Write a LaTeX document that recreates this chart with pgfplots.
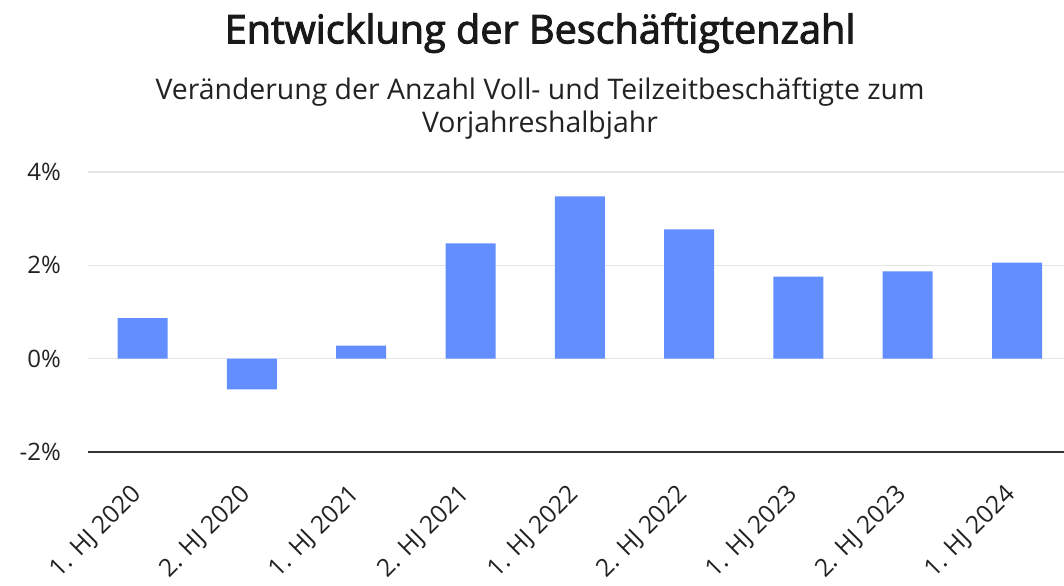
\documentclass[border=0pt]{standalone}
\usepackage{pgfplots}
\pgfplotsset{compat=1.18}
\usepackage{fontspec}
\setmainfont{Open Sans}
\newfontfamily\titlefont[FakeBold=2.5]{Open Sans}
\definecolor{barblue}{RGB}{99,142,255}
\definecolor{txt}{RGB}{34,34,34}

\begin{document}
\begin{tikzpicture}
\clip (0,0) rectangle (532pt,292.5pt);
\begin{axis}[
  at={(44pt,66.5pt)},
  anchor=south west,
  scale only axis,
  width=488pt,
  height=140pt,
  ymin=-2, ymax=4,
  xmin=-0.5, xmax=8.43,
  ytick={-2,0,2,4},
  yticklabels={-2\%,0\%,2\%,4\%},
  xtick={0,1,2,3,4,5,6,7,8},
  xticklabels={1. HJ 2020,2. HJ 2020,1. HJ 2021,2. HJ 2021,1. HJ 2022,2. HJ 2022,1. HJ 2023,2. HJ 2023,1. HJ 2024},
  xticklabel style={rotate=45, anchor=east, font=\fontsize{12.3}{14}\selectfont, text=txt},
  xticklabel shift=17pt,
  yticklabel style={font=\fontsize{12}{14}\selectfont, text=txt},
  yticklabel shift=10pt,
  major tick length=0pt,
  axis x line*=bottom,
  axis y line*=left,
  y axis line style={draw=none},
  x axis line style={draw=black!80, line width=0.8pt, -},
  ymajorgrids=true,
  grid style={black!10, line width=0.6pt},
  clip=false,
]
\addplot[ybar, bar width=25pt, fill=barblue, draw=none] coordinates {
  (0,0.87) (1,-0.66) (2,0.28) (3,2.47) (4,3.48) (5,2.77) (6,1.76) (7,1.87) (8,2.06)
};
\end{axis}
\node[text=black!90, font=\titlefont\fontsize{19.8}{22}\selectfont] at (270pt,276pt) {Entwicklung der Beschäftigtenzahl};
\node[text=txt, font=\fontsize{14.2}{16.5}\selectfont, align=center] at (270pt,238pt) {Veränderung der Anzahl Voll- und Teilzeitbeschäftigte zum\\Vorjahreshalbjahr};
\end{tikzpicture}
\end{document}
